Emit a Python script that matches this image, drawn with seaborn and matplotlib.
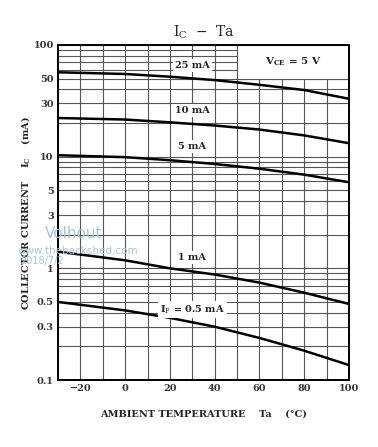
import matplotlib
matplotlib.use("Agg")
import matplotlib.pyplot as plt
from matplotlib.patches import Rectangle
from matplotlib.ticker import FixedLocator, NullFormatter
import seaborn as sns
import pandas as pd

# ---- data ----
temps = [-30, 0, 20, 40, 60, 80, 100]
ic_25mA = [57.0, 55.0, 52.0, 48.5, 44.0, 39.5, 33.0]
ic_10mA = [22.2, 21.5, 20.3, 19.0, 17.5, 15.5, 13.2]
ic_5mA = [10.3, 9.9, 9.3, 8.6, 7.8, 6.9, 5.9]
ic_1mA = [1.41, 1.18, 1.0, 0.88, 0.745, 0.605, 0.48]
ic_05mA = [0.50, 0.42, 0.36, 0.30, 0.238, 0.183, 0.136]
series_names = ["25 mA", "10 mA", "5 mA", "1 mA", "IF = 0.5 mA"]
series_vals = [ic_25mA, ic_10mA, ic_5mA, ic_1mA, ic_05mA]
label_texts = ["25 mA", "10 mA", "5 mA", "1 mA", r"I$_\mathrm{F}$ = 0.5 mA"]
label_y = [66, 26, 12.3, 1.26, 0.43]

x_ticks = list(range(-30, 101, 10))
x_ticklabels = ["", "\u221220", "", "0", "", "20", "", "40", "", "60", "", "80", "", "100"]
y_major = [0.1, 0.3, 0.5, 1, 3, 5, 10, 30, 50, 100]
y_major_labels = ["0.1", "0.3", "0.5", "1", "3", "5", "10", "30", "50", "100"]
y_minor = [m * d for d in (0.1, 1, 10) for m in range(1, 10)]

rows = []
for name, vals in zip(series_names, series_vals):
    for t, v in zip(temps, vals):
        rows.append({"Ta": t, "Ic": v, "IF": name})
df = pd.DataFrame(rows)

sns.set_style("white")
plt.rcParams["font.family"] = ["DejaVu Serif"]
plt.rcParams["mathtext.fontset"] = "dejavuserif"
plt.rcParams["mathtext.default"] = "regular"

fig = plt.figure(figsize=(3.78, 4.47), dpi=100)
ax = fig.add_axes([58 / 378, 1 - 380 / 447, (349 - 58) / 378, (380 - 45) / 447])

sns.lineplot(data=df, x="Ta", y="Ic", hue="IF", palette=["black"] * 5,
             legend=False, linewidth=1.8, ax=ax, zorder=3)
ax.set_yscale("log")
ax.set_xlim(-30, 100)
ax.set_ylim(0.1, 100)

ax.set_xticks(x_ticks)
ax.set_xticklabels(x_ticklabels)
ax.yaxis.set_major_locator(FixedLocator(y_major))
ax.set_yticklabels(y_major_labels)
ax.yaxis.set_minor_locator(FixedLocator(y_minor))
ax.yaxis.set_minor_formatter(NullFormatter())
ax.tick_params(axis="both", which="both", length=0, labelsize=7, pad=3)
for lab in ax.get_xticklabels() + ax.get_yticklabels():
    lab.set_fontweight("bold")
    lab.set_color("#333333")

ax.set_axisbelow(True)
ax.grid(True, which="both", color="#555555", linewidth=0.8)
for s in ax.spines.values():
    s.set_linewidth(1.4)
    s.set_color("black")
    s.set_zorder(5)

# white box with condition
ax.add_patch(Rectangle((50, 50), 50, 50, facecolor="white", edgecolor="#555555",
                       linewidth=0.8, zorder=1))
ax.text(75, 71, r"V$_{CE}$ = 5 V", ha="center", va="center", fontsize=7.5,
        fontweight="bold", color="#222222", zorder=4)

for txt, yv in zip(label_texts, label_y):
    ax.text(30, yv, txt, ha="center", va="center", fontsize=7, fontweight="bold",
            color="#222222", zorder=4,
            bbox=dict(facecolor="white", edgecolor="none", pad=1.5))

ax.set_xlabel("AMBIENT TEMPERATURE    Ta    (\u00b0C)", fontsize=7, fontweight="bold",
              color="#222222", labelpad=12)
ax.set_ylabel("COLLECTOR CURRENT    I$_{C}$    (mA)", fontsize=7,
              fontweight="bold", color="#222222", labelpad=1)
ax.set_title("I$_{C}$  \u2212  Ta", fontsize=10, color="#222222", pad=6)

# watermark
fig.text(45 / 378, 1 - 234 / 447, "Volhout", fontsize=11, color="#a9c3de",
         family="DejaVu Sans", va="center", zorder=10)
fig.text(18 / 378, 1 - 251 / 447, "www.thebackshed.com", fontsize=7.5, color="#a9c3de",
         family="DejaVu Sans", va="center", zorder=10)
fig.text(20 / 378, 1 - 261 / 447, "2018/7/2", fontsize=7, color="#a9c3de",
         family="DejaVu Sans", va="center", zorder=10)

fig.savefig("out.png", dpi=100, facecolor="white")
